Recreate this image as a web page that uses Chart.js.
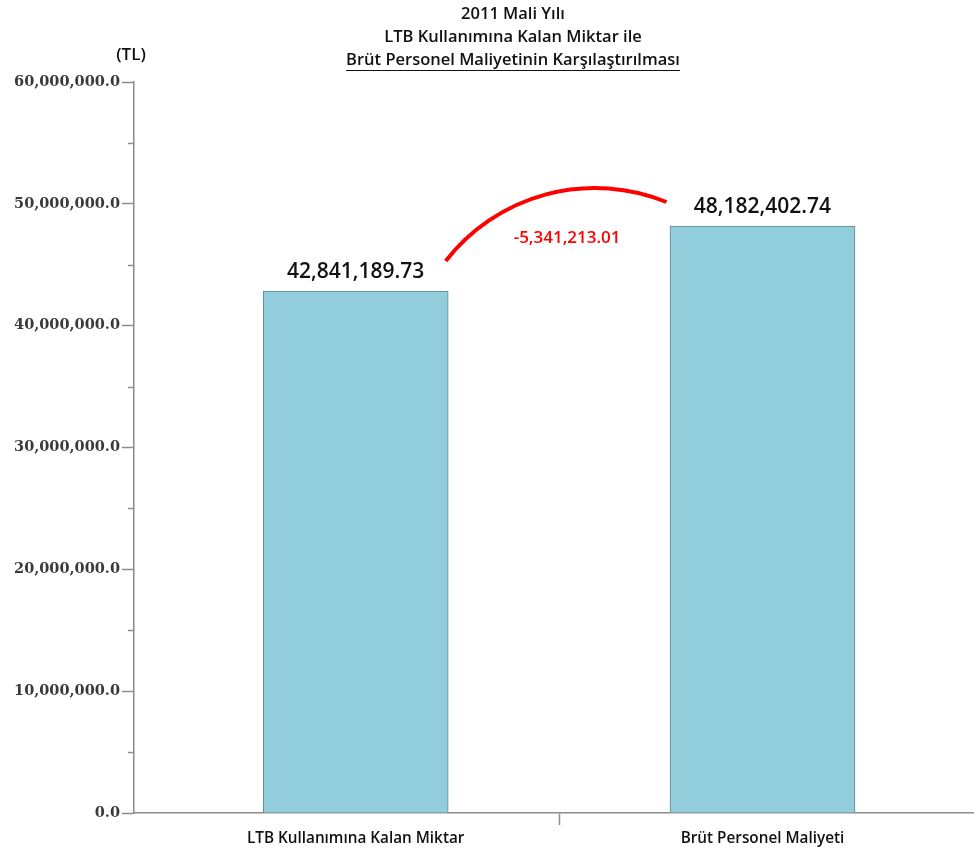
<!DOCTYPE html>
<html>
<head>
<meta charset="utf-8">
<script src="https://cdn.jsdelivr.net/npm/chart.js@4.4.1/dist/chart.umd.min.js"></script>
<style>
  html, body { margin: 0; padding: 0; background: #ffffff; }
  #wrap { width: 974px; height: 852px; position: relative; }
</style>
</head>
<body>
<div id="wrap"><canvas id="c" width="974" height="852"></canvas></div>
<script>
// ---- data ----
const categories = ['LTB Kullanımına Kalan Miktar', 'Brüt Personel Maliyeti'];
const values = [42841189.73, 48182402.74];
const titleLines = ['2011 Mali Yılı', 'LTB Kullanımına Kalan Miktar ile', 'Brüt Personel Maliyetinin Karşılaştırılması'];
const unitLabel = '(TL)';
const yTicks = [0, 10000000, 20000000, 30000000, 40000000, 50000000, 60000000];
const yMinorTicks = [5000000, 15000000, 25000000, 35000000, 45000000, 55000000];

const difference = values[0] - values[1];

function fmt(v, d) {
  return v.toLocaleString('en-US', { minimumFractionDigits: d, maximumFractionDigits: d });
}

const AXIS = '#8c8c8c';
const SANS = '"Open Sans", "Noto Sans", sans-serif';

const decorPlugin = {
  id: 'decor',
  afterDraw(chart) {
    const ctx = chart.ctx;
    const xs = chart.scales.x, ys = chart.scales.y;
    ctx.save();
    // title
    ctx.fillStyle = '#111';
    ctx.textAlign = 'center';
    ctx.textBaseline = 'middle';
    ctx.font = '600 16.5px ' + SANS;
    const tx = 513;
    const ty = [14, 37, 60];
    titleLines.forEach((t, i) => ctx.fillText(t, tx, ty[i]));
    const w = ctx.measureText(titleLines[2]).width;
    ctx.strokeStyle = '#111';
    ctx.lineWidth = 1.2;
    ctx.beginPath();
    ctx.moveTo(tx - w / 2, ty[2] + 10.5);
    ctx.lineTo(tx + w / 2, ty[2] + 10.5);
    ctx.stroke();
    // unit
    ctx.font = '600 17px ' + SANS;
    ctx.fillText(unitLabel, 131, 55);

    // minor y ticks
    ctx.strokeStyle = AXIS;
    ctx.lineWidth = 1.5;
    yMinorTicks.forEach(v => {
      const py = Math.round(ys.getPixelForValue(v)) + 0.5;
      ctx.beginPath();
      ctx.moveTo(ys.right - 6, py);
      ctx.lineTo(ys.right, py);
      ctx.stroke();
    });

    // value labels
    ctx.fillStyle = '#111';
    ctx.font = '600 21px ' + SANS;
    ctx.textBaseline = 'alphabetic';
    values.forEach((v, i) => {
      const px = xs.getPixelForValue(i);
      const py = ys.getPixelForValue(v);
      ctx.fillText(fmt(v, 2), px, py - 13);
    });

    // difference arc (circle through three points anchored to the bars)
    const x0 = xs.getPixelForValue(0), x1 = xs.getPixelForValue(1);
    const y0 = ys.getPixelForValue(values[0]), y1 = ys.getPixelForValue(values[1]);
    const p1 = [x0 + 90, y0 - 30];
    const p3 = [x1 - 96, y1 - 24];
    const p2 = [x1 - 163, y1 - 38];
    const [ax, ay] = p1, [bx, by] = p2, [cx, cy] = p3;
    const d = 2 * (ax * (by - cy) + bx * (cy - ay) + cx * (ay - by));
    const ux = ((ax*ax+ay*ay)*(by-cy) + (bx*bx+by*by)*(cy-ay) + (cx*cx+cy*cy)*(ay-by)) / d;
    const uy = ((ax*ax+ay*ay)*(cx-bx) + (bx*bx+by*by)*(ax-cx) + (cx*cx+cy*cy)*(bx-ax)) / d;
    const r = Math.hypot(ax - ux, ay - uy);
    const a1 = Math.atan2(ay - uy, ax - ux);
    const a2 = Math.atan2(cy - uy, cx - ux);
    ctx.strokeStyle = '#ff0000';
    ctx.lineWidth = 4;
    ctx.lineCap = 'butt';
    ctx.beginPath();
    ctx.arc(ux, uy, r, a1, a2, false);
    ctx.stroke();

    ctx.fillStyle = '#ff0000';
    ctx.font = '600 17px ' + SANS;
    ctx.textBaseline = 'middle';
    ctx.fillText(fmt(difference, 2), (x0 + x1) / 2 + 8, y1 + 12);
    ctx.restore();
  }
};

new Chart(document.getElementById('c'), {
  type: 'bar',
  data: {
    datasets: [{
      data: values.map((v, i) => ({ x: i, y: v })),
      backgroundColor: '#92cddb',
      borderColor: '#5e8590',
      borderWidth: 1,
      borderSkipped: 'bottom',
      barThickness: 185
    }]
  },
  options: {
    responsive: false,
    animation: false,
    layout: { padding: { top: 82, right: 0, bottom: 0, left: 0 } },
    plugins: { legend: { display: false }, title: { display: false }, tooltip: { enabled: false } },
    scales: {
      x: {
        type: 'linear',
        offset: false,
        min: -0.545,
        max: 1.52,
        afterBuildTicks(scale) { scale.ticks = [{ value: 0 }, { value: 0.5 }, { value: 1 }]; },
        afterFit(scale) { scale.height = 39; },
        ticks: {
          autoSkip: false,
          maxRotation: 0,
          padding: 4,
          color: '#111',
          font: { family: SANS, size: 15.3, weight: '600' },
          callback(v) { return v === 0 ? categories[0] : (v === 1 ? categories[1] : ''); }
        },
        grid: {
          drawOnChartArea: false,
          offset: false,
          tickLength: 12,
          tickColor: ctx => (ctx.tick && ctx.tick.value === 0.5) ? AXIS : 'rgba(0,0,0,0)',
          tickWidth: 1.5
        },
        border: { color: AXIS, width: 1.5 }
      },
      y: {
        min: 0,
        max: 60000000,
        afterBuildTicks(scale) { scale.ticks = yTicks.map(v => ({ value: v })); },
        afterFit(scale) { scale.width = 134; },
        ticks: {
          padding: 2,
          color: '#3a3a3a',
          font: { family: '"DejaVu Serif", serif', size: 14.5, weight: 'bold' },
          callback(v) { return fmt(v, 1); }
        },
        grid: { drawOnChartArea: false, tickLength: 12, tickColor: AXIS, tickWidth: 1.5 },
        border: { color: AXIS, width: 1.5 }
      }
    }
  },
  plugins: [decorPlugin]
});
</script>
</body>
</html>
